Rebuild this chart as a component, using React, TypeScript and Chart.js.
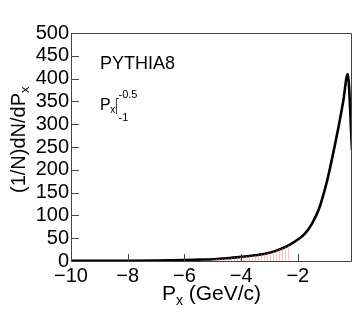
import React, { useEffect, useRef } from "react";
import { Chart, registerables } from "chart.js";

Chart.register(...registerables);

// Px (GeV/c) sample positions and the distribution (1/N)dN/dPx
const pxValues = [-10, -9, -8, -7, -6, -5.5, -5, -4.5, -4, -3.5, -3, -2.75, -2.5, -2.25, -2, -1.75, -1.5, -1.25, -1, -0.85, -0.7, -0.55, -0.4, -0.24, -0.09];
const dndpx = [0.2, 0.3, 0.5, 1, 2, 3, 4, 6, 9, 12.5, 18, 23, 29, 37, 47, 60, 82, 115, 168, 208, 252, 299, 350, 410, 243];
// shaded integration window
const shadeMin = -5;
const shadeMax = -2.25;
const xTicks = [-10, -8, -6, -4, -2];
const yTicks = [0, 50, 100, 150, 200, 250, 300, 350, 400, 450, 500];

const FONT = "'Liberation Sans', Arial, Helvetica, sans-serif";

function fmt(v: number): string {
  return v < 0 ? "\u2212" + Math.abs(v) : String(v);
}

export default function App() {
  const ref = useRef<HTMLCanvasElement | null>(null);

  useEffect(() => {
    const canvas = ref.current;
    if (!canvas) return;

    const pc = document.createElement("canvas");
    pc.width = 3;
    pc.height = 4;
    const pctx = pc.getContext("2d")!;
    pctx.fillStyle = "rgba(255,130,130,0.5)";
    pctx.fillRect(0, 0, 1, 4);
    const pattern = canvas.getContext("2d")!.createPattern(pc, "repeat");

    const mainData = pxValues.map((x, i) => ({ x, y: dndpx[i] }));
    const shadeData = pxValues
      .map((x, i) => ({ x, y: dndpx[i] }))
      .filter((p) => p.x >= shadeMin && p.x <= shadeMax);

    const frame = {
      id: "frame",
      afterDraw(chart: any) {
        const { ctx, chartArea: a, scales } = chart;
        ctx.save();
        ctx.strokeStyle = "#444";
        ctx.lineWidth = 1;
        ctx.beginPath();
        ctx.rect(a.left + 0.5, a.top + 0.5, a.right - a.left - 1, a.bottom - a.top);
        ctx.stroke();
        ctx.beginPath();
        for (const t of yTicks) {
          const y = Math.round(scales.y.getPixelForValue(t)) + 0.5;
          ctx.moveTo(a.left, y);
          ctx.lineTo(a.left + 8, y);
        }
        for (const t of xTicks) {
          const x = Math.round(scales.x.getPixelForValue(t)) + 0.5;
          ctx.moveTo(x, a.bottom);
          ctx.lineTo(x, a.bottom - 7);
        }
        ctx.stroke();

        ctx.fillStyle = "#000";
        ctx.textAlign = "left";
        ctx.textBaseline = "alphabetic";

        // y title
        ctx.save();
        ctx.translate(25, 193);
        ctx.rotate(-Math.PI / 2);
        ctx.font = `20px ${FONT}`;
        const yt = "(1/N)dN/dP";
        ctx.fillText(yt, 0, 0);
        const yw = ctx.measureText(yt).width;
        ctx.font = `13px ${FONT}`;
        ctx.fillText("x", yw, 4);
        ctx.restore();

        // x title
        ctx.font = `21px ${FONT}`;
        const pW = ctx.measureText("P").width;
        const rest = " (GeV/c)";
        const rW = ctx.measureText(rest).width;
        ctx.font = `14px ${FONT}`;
        const sW = ctx.measureText("x").width;
        const total = pW + sW + rW;
        const cx = (a.left + a.right) / 2;
        const x0 = cx - total / 2;
        ctx.font = `21px ${FONT}`;
        ctx.fillText("P", x0, 300);
        ctx.font = `14px ${FONT}`;
        ctx.fillText("x", x0 + pW, 305);
        ctx.font = `21px ${FONT}`;
        ctx.fillText(rest, x0 + pW + sW, 300);

        // labels
        ctx.font = `18px ${FONT}`;
        ctx.fillText("PYTHIA8", 100, 69);
        ctx.font = `16px ${FONT}`;
        ctx.fillText("P", 100, 110);
        const p2 = ctx.measureText("P").width;
        ctx.font = `10px ${FONT}`;
        ctx.fillText("x", 100 + p2 - 0.5, 113);
        const xw = ctx.measureText("x").width;
        const bx = Math.round(100 + p2 + xw) + 0.5;
        ctx.beginPath();
        ctx.moveTo(bx, 98);
        ctx.lineTo(bx, 114);
        ctx.moveTo(bx, 98.5);
        ctx.lineTo(bx + 2.5, 98.5);
        ctx.stroke();
        ctx.font = `11px ${FONT}`;
        ctx.fillText("-0.5", bx + 2, 98);
        ctx.fillText("-1", bx + 2, 121);
        ctx.restore();
      },
    };

    const chart = new Chart(canvas, {
      type: "line",
      data: {
        datasets: [
          {
            data: shadeData,
            borderWidth: 0,
            pointRadius: 0,
            fill: "origin",
            backgroundColor: pattern as any,
            cubicInterpolationMode: "monotone",
          },
          {
            data: mainData,
            borderColor: "#000",
            borderWidth: 2.6,
            pointRadius: 0,
            fill: false,
            cubicInterpolationMode: "monotone",
          },
        ],
      },
      options: {
        animation: false,
        responsive: false,
        maintainAspectRatio: false,
        events: [],
        layout: { padding: { left: 0, right: 4, top: 33, bottom: 0 } },
        plugins: { legend: { display: false }, tooltip: { enabled: false } },
        scales: {
          x: {
            type: "linear",
            min: -10,
            max: -0.09,
            afterFit: (s: any) => {
              s.height = 66;
            },
            grid: { display: false, drawTicks: false },
            border: { display: false },
            ticks: {
              stepSize: 2,
              includeBounds: false,
              padding: 3,
              color: "#000",
              font: { family: FONT, size: 20 },
              maxRotation: 0,
              autoSkip: false,
              callback: (v: any) => fmt(Number(v)),
            },
          },
          y: {
            min: 0,
            max: 500,
            afterFit: (s: any) => {
              s.width = 71;
            },
            grid: { display: false, drawTicks: false },
            border: { display: false },
            ticks: {
              stepSize: 50,
              padding: 2,
              color: "#000",
              font: { family: FONT, size: 20 },
              autoSkip: false,
              callback: (v: any) => fmt(Number(v)),
            },
          },
        },
      },
      plugins: [frame],
    });

    return () => chart.destroy();
  }, []);

  return (
    <div style={{ position: "absolute", left: 0, top: 0, width: 356, height: 327, background: "#fff" }}>
      <canvas ref={ref} width={356} height={327} style={{ display: "block", width: 356, height: 327 }} />
    </div>
  );
}
